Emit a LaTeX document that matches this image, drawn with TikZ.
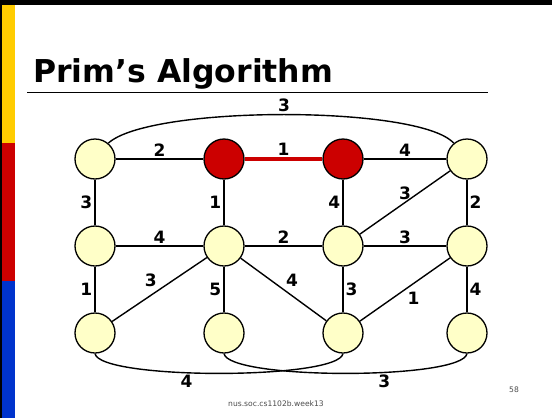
\documentclass[tikz,border=0pt]{standalone}
\usepackage{fontspec}
\setmainfont{DejaVu Sans}
\usepackage{xcolor}
\usepackage{tikz}
\usetikzlibrary{positioning}

\definecolor{vertexfill}{RGB}{255,255,200}
\definecolor{treered}{RGB}{204,0,0}
\definecolor{baryellow}{RGB}{255,204,0}
\definecolor{barblue}{RGB}{0,51,204}

\begin{document}
\begin{tikzpicture}[
  x=1pt, y=-1pt,
  vertex/.style={circle, draw, line width=1.3pt, fill=vertexfill, minimum size=40pt, inner sep=0pt},
  intree/.style={vertex, fill=treered},
  edge/.style={line width=1.4pt},
  treeedge/.style={line width=3.5pt, draw=treered},
  weight/.style={font=\fontsize{17}{17}\selectfont\bfseries, inner sep=2pt}
]
\useasboundingbox (0,0) rectangle (552,418);
\fill[white] (0,0) rectangle (552,418);
\fill[black] (0,0) rectangle (552,5);
\fill[black] (0,0) rectangle (2,418);
\fill[baryellow] (2,5) rectangle (15,143);
\fill[treered] (2,143) rectangle (15,281);
\fill[barblue] (2,281) rectangle (15,418);

\node[anchor=base west, inner sep=0pt, font=\fontsize{31.5}{31.5}\selectfont\bfseries] (title) at (33,82) {Prim’s Algorithm};
\draw[line width=0.8pt] (27,92) -- (488,92);

% vertices
\node[vertex] (a1) at (95,159) {};
\node[intree] (a2) at (224,159) {};
\node[intree] (a3) at (343,159) {};
\node[vertex] (a4) at (467,159) {};
\node[vertex] (b1) at (95,246) {};
\node[vertex] (b2) at (224,246) {};
\node[vertex] (b3) at (343,246) {};
\node[vertex] (b4) at (467,246) {};
\node[vertex] (c1) at (95,333) {};
\node[vertex] (c2) at (224,333) {};
\node[vertex] (c3) at (343,333) {};
\node[vertex] (c4) at (467,333) {};

% edges
\draw[edge] (a1) -- node[weight, above] {2} (a2);
\draw[treeedge] (a2) -- node[weight, above] {1} (a3);
\draw[edge] (a3) -- node[weight, above] {4} (a4);
\draw[edge] (a1.50) .. controls (150,105) and (420,105) .. node[weight, above] {3} (a4.130);
\draw[edge] (a1) -- node[weight, left] {3} (b1);
\draw[edge] (a2) -- node[weight, left] {1} (b2);
\draw[edge] (a3) -- node[weight, left] {4} (b3);
\draw[edge] (a4) -- node[weight, right] {2} (b4);
\draw[edge] (b3) -- node[weight, above] {3} (a4);
\draw[edge] (b1) -- node[weight, above] {4} (b2);
\draw[edge] (b2) -- node[weight, above] {2} (b3);
\draw[edge] (b3) -- node[weight, above] {3} (b4);
\draw[edge] (b1) -- node[weight, left] {1} (c1);
\draw[edge] (b2) -- node[weight, above left] {3} (c1);
\draw[edge] (b2) -- node[weight, left] {5} (c2);
\draw[edge] (b2) -- node[weight, above right] {4} (c3);
\draw[edge] (b3) -- node[weight, right] {3} (c3);
\draw[edge] (b4) -- node[weight, below right] {1} (c3);
\draw[edge] (b4) -- node[weight, right] {4} (c4);
\draw[edge] (c1.south) .. controls (100,380) and (338,380) .. node[weight, below, pos=0.41] {4} (c3.south);
\draw[edge] (c2.south) .. controls (229,380) and (462,380) .. node[weight, below, pos=0.61] {3} (c4.south);

\node[font=\fontsize{7.6}{7.6}\selectfont, text=black!70] (footer) at (276,404) {nus.soc.cs1102b.week13};
\node[font=\fontsize{7.6}{7.6}\selectfont, text=black!70] (slideno) at (514,390) {58};
\end{tikzpicture}
\end{document}
